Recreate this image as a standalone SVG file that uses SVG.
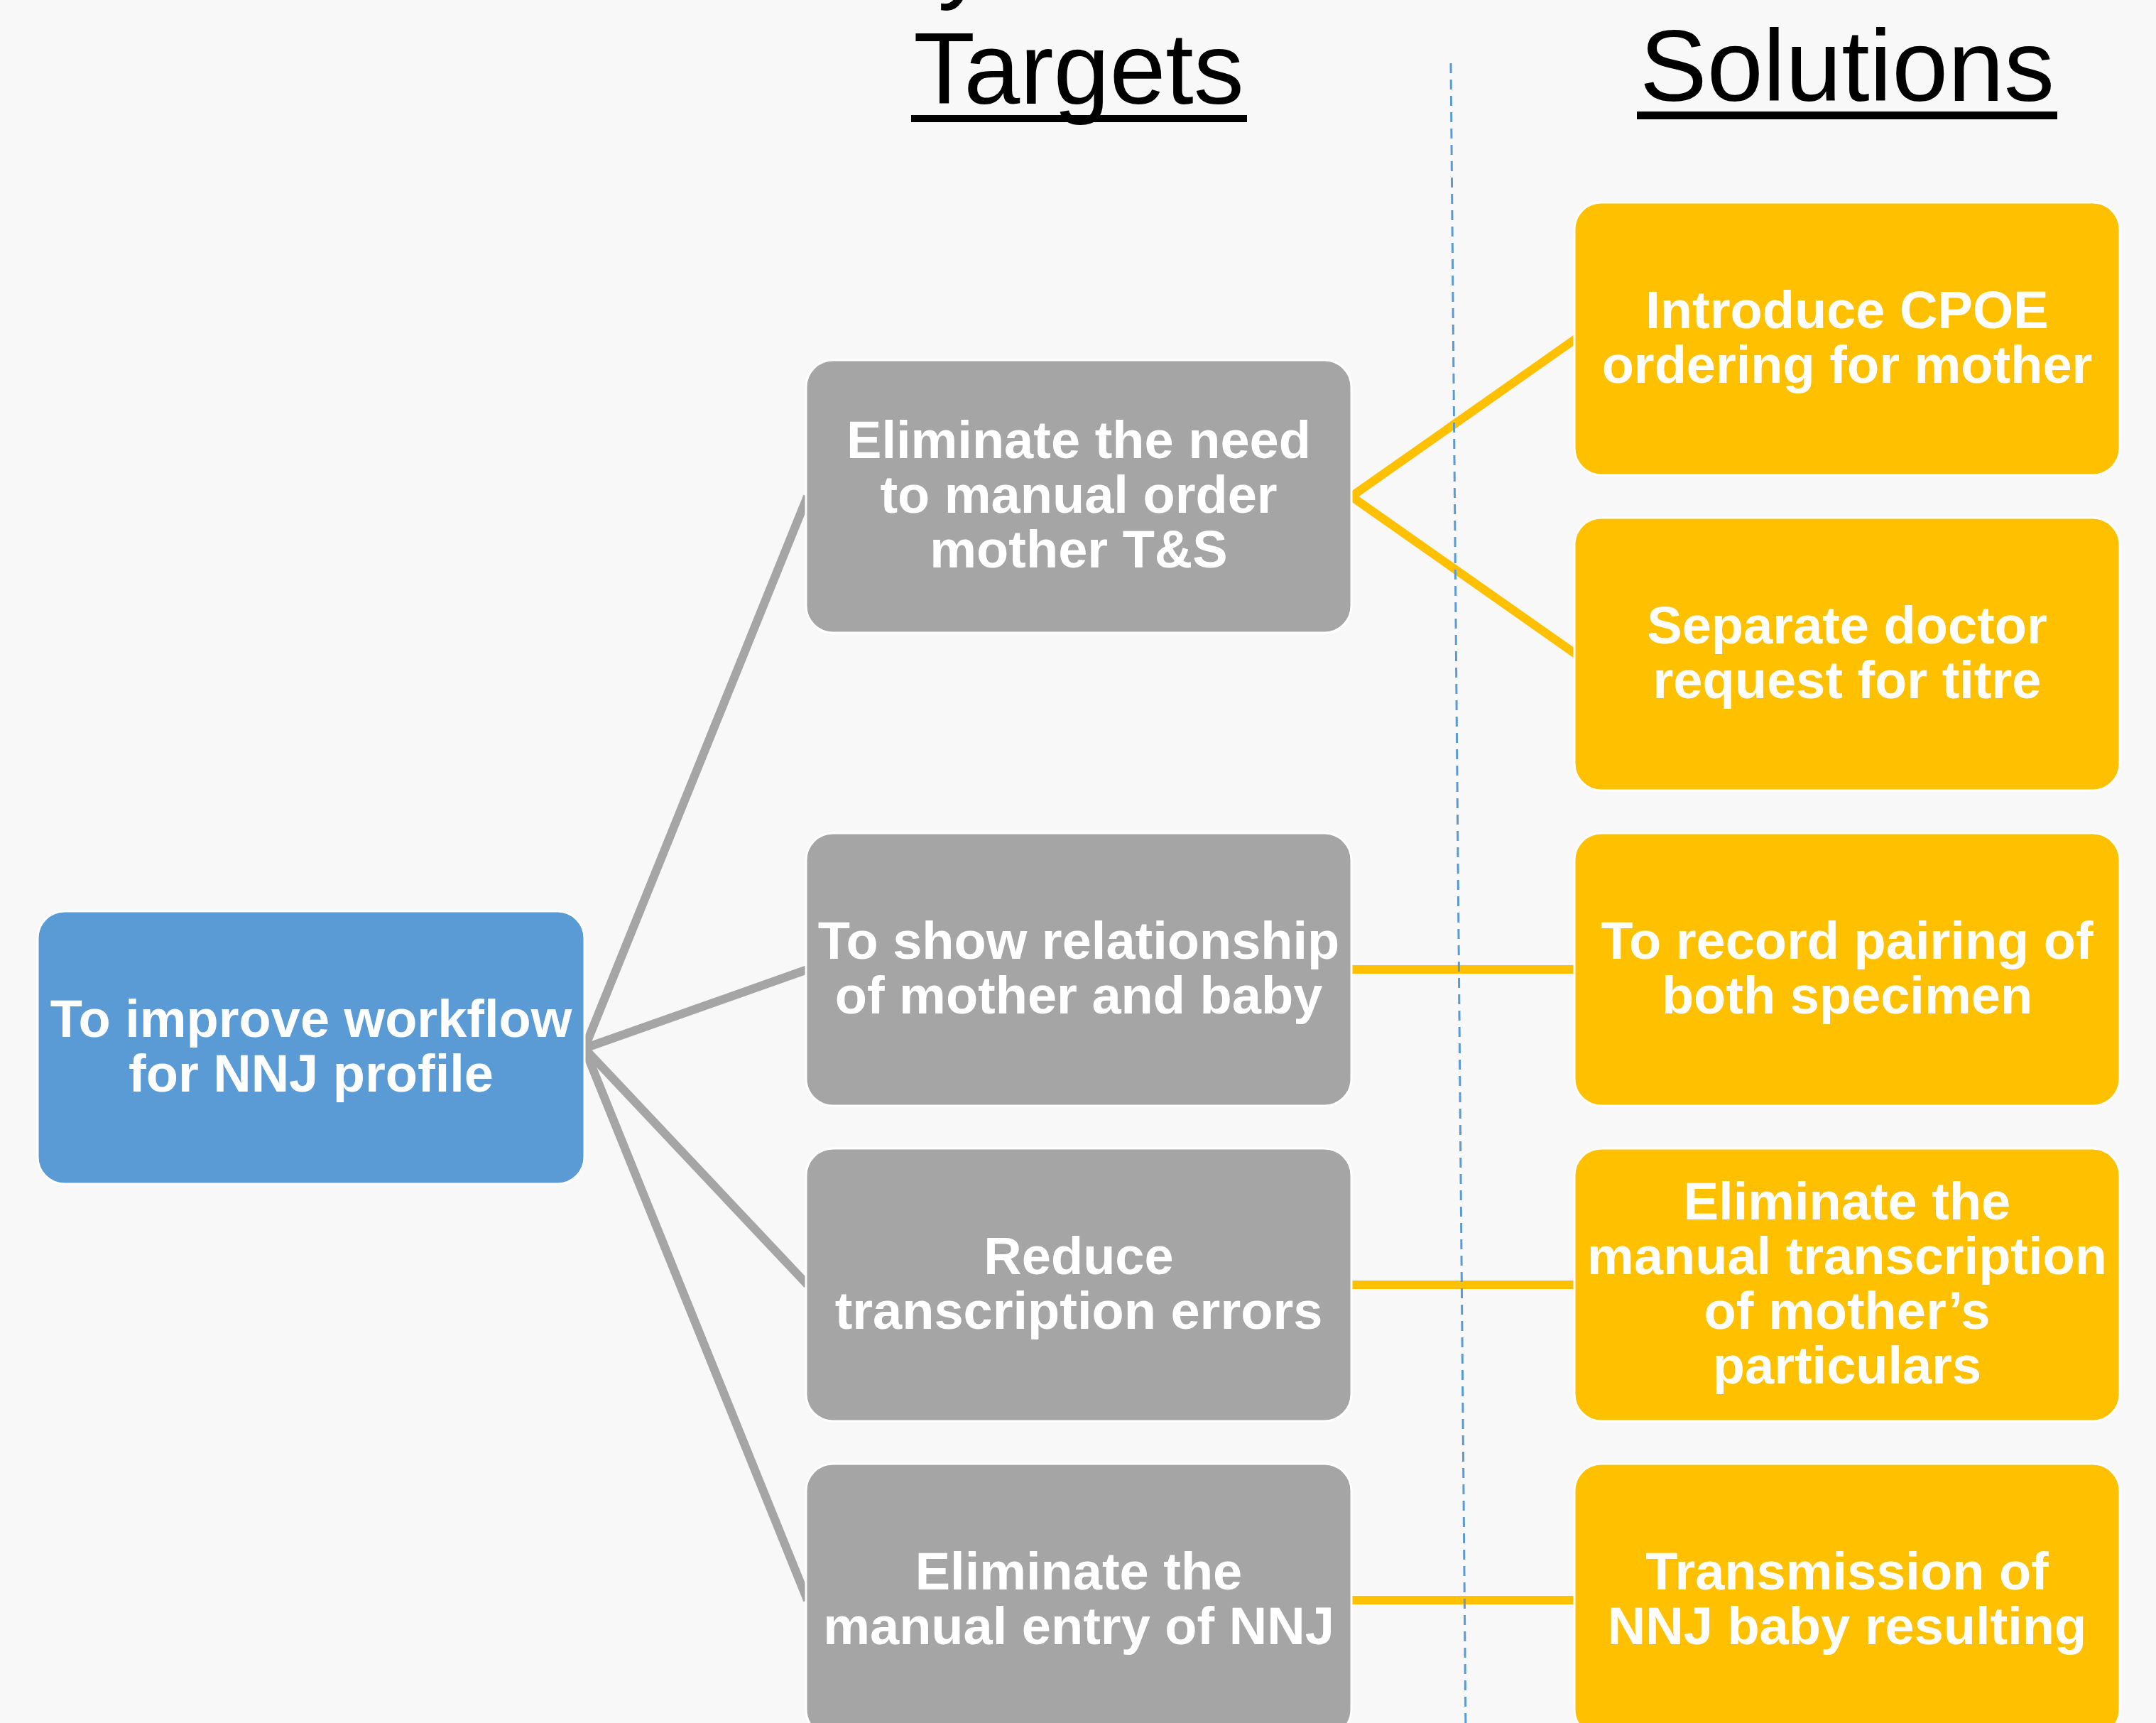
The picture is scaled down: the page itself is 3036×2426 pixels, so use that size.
<svg xmlns="http://www.w3.org/2000/svg" width="3036" height="2426" viewBox="0 0 3036 2426">
<style>
.node rect{stroke:#FFFFFF;stroke-width:3}
.blue rect{fill:#5B9BD5}
.gray rect{fill:#A5A5A5}
.yellow rect{fill:#FFC000}
.node text{font-family:"Liberation Sans",Arial,sans-serif;font-weight:bold;font-size:74px;fill:#FFFFFF;text-anchor:middle}
.head{font-family:"Liberation Sans",Arial,sans-serif;font-size:142px;fill:#000000;text-anchor:middle}
.cg{stroke:#A5A5A5;stroke-width:12;fill:none}
.cy{stroke:#FFC000;stroke-width:12;fill:none}
</style>
<rect x="0" y="0" width="3036" height="2426" fill="#F8F8F8"/>

<text class="head" x="1356" y="-15">y</text>

<g id="heading-targets">
<text class="head" x="1519" y="146">Targets</text>
<rect x="1283" y="162" width="473" height="10" fill="#000000"/>
</g>
<g id="heading-solutions">
<text class="head" x="2601" y="142">Solutions</text>
<rect x="2305" y="157" width="592" height="11" fill="#000000"/>
</g>

<g id="connectors">
<line class="cg" x1="823" y1="1476" x2="1137" y2="699"/>
<line class="cg" x1="823" y1="1476" x2="1137" y2="1365"/>
<line class="cg" x1="823" y1="1476" x2="1137" y2="1809"/>
<line class="cg" x1="823" y1="1476" x2="1137" y2="2253"/>
<line class="cy" x1="1903" y1="699" x2="2219" y2="477"/>
<line class="cy" x1="1903" y1="699" x2="2219" y2="921"/>
<line class="cy" x1="1903" y1="1365" x2="2219" y2="1365"/>
<line class="cy" x1="1903" y1="1809" x2="2219" y2="1809"/>
<line class="cy" x1="1903" y1="2253" x2="2219" y2="2253"/>
</g>

<line id="divider" x1="2043" y1="89" x2="2064" y2="2440" stroke="#5B9BD5" stroke-width="3" stroke-dasharray="14 9"/>

<g id="goal" class="node blue">
<rect x="53" y="1283" width="770" height="384" rx="38" ry="38"/>
<text x="438" y="1460">To improve workflow</text>
<text x="438" y="1537">for NNJ profile</text>
</g>

<g id="target1" class="node gray">
<rect x="1135" y="507" width="768" height="384" rx="38" ry="38"/>
<text x="1519" y="645">Eliminate the need</text>
<text x="1519" y="722">to manual order</text>
<text x="1519" y="799">mother T&amp;S</text>
</g>
<g id="target2" class="node gray">
<rect x="1135" y="1173" width="768" height="384" rx="38" ry="38"/>
<text x="1519" y="1350">To show relationship</text>
<text x="1519" y="1427">of mother and baby</text>
</g>
<g id="target3" class="node gray">
<rect x="1135" y="1617" width="768" height="384" rx="38" ry="38"/>
<text x="1519" y="1794">Reduce</text>
<text x="1519" y="1871">transcription errors</text>
</g>
<g id="target4" class="node gray">
<rect x="1135" y="2061" width="768" height="384" rx="38" ry="38"/>
<text x="1519" y="2238">Eliminate the</text>
<text x="1519" y="2315">manual entry of NNJ</text>
</g>

<g id="solution1" class="node yellow">
<rect x="2217" y="285" width="768" height="384" rx="38" ry="38"/>
<text x="2601" y="462">Introduce CPOE</text>
<text x="2601" y="539">ordering for mother</text>
</g>
<g id="solution2" class="node yellow">
<rect x="2217" y="729" width="768" height="384" rx="38" ry="38"/>
<text x="2601" y="906">Separate doctor</text>
<text x="2601" y="983">request for titre</text>
</g>
<g id="solution3" class="node yellow">
<rect x="2217" y="1173" width="768" height="384" rx="38" ry="38"/>
<text x="2601" y="1350">To record pairing of</text>
<text x="2601" y="1427">both specimen</text>
</g>
<g id="solution4" class="node yellow">
<rect x="2217" y="1617" width="768" height="384" rx="38" ry="38"/>
<text x="2601" y="1717">Eliminate the</text>
<text x="2601" y="1794">manual transcription</text>
<text x="2601" y="1871">of mother’s</text>
<text x="2601" y="1948">particulars</text>
</g>
<g id="solution5" class="node yellow">
<rect x="2217" y="2061" width="768" height="384" rx="38" ry="38"/>
<text x="2601" y="2238">Transmission of</text>
<text x="2601" y="2315">NNJ baby resulting</text>
</g>
</svg>
